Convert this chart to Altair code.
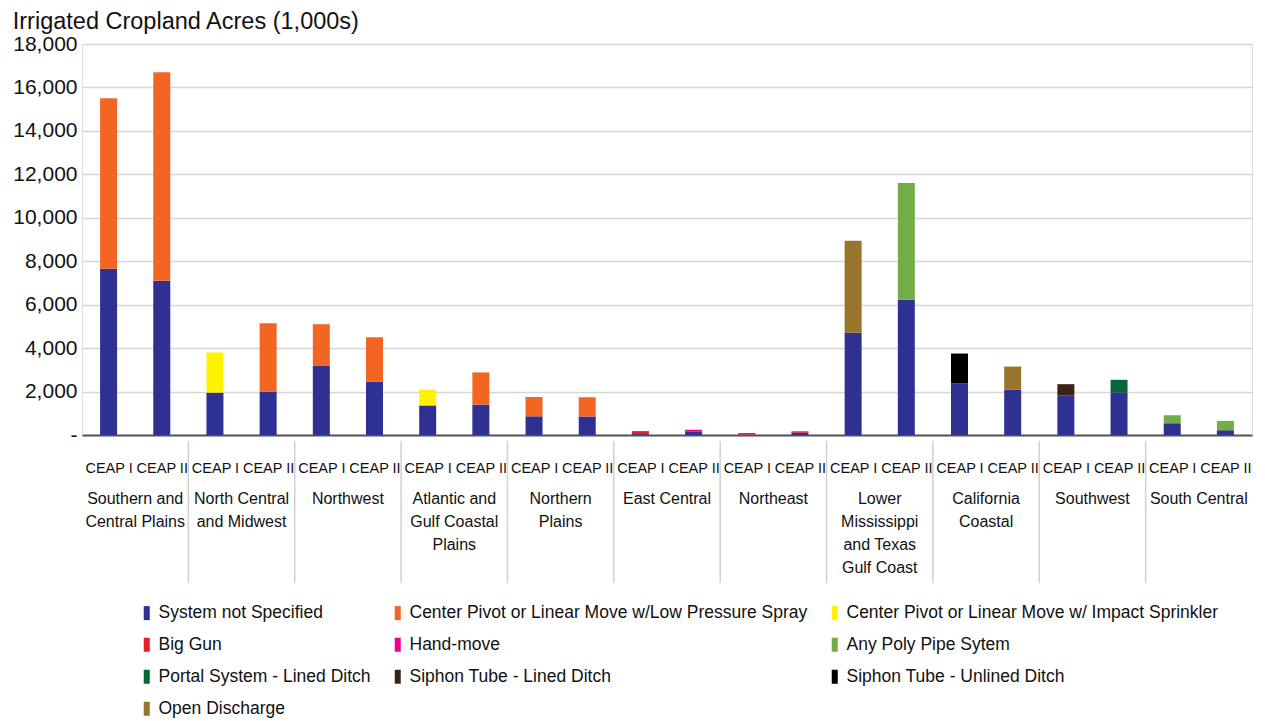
import altair as alt
import pandas as pd

regions = ["Southern and\nCentral Plains", "North Central\nand Midwest", "Northwest",
           "Atlantic and\nGulf Coastal\nPlains", "Northern\nPlains", "East Central",
           "Northeast", "Lower\nMississippi\nand Texas\nGulf Coast", "California\nCoastal",
           "Southwest", "South Central"]
periods = ["CEAP I", "CEAP II"]

series_names = ["System not Specified",
                "Center Pivot or Linear Move w/Low Pressure Spray",
                "Center Pivot or Linear Move w/ Impact Sprinkler",
                "Big Gun", "Hand-move", "Any Poly Pipe Sytem",
                "Portal System - Lined Ditch", "Siphon Tube - Lined Ditch",
                "Siphon Tube - Unlined Ditch", "Open Discharge"]
series_colors = ["#2E3192", "#F26522", "#FFF200", "#ED1C24", "#EC008C",
                 "#72AE48", "#006838", "#3C2415", "#000000", "#98752B"]

# values in 1,000 acres, one per bar (region x period, in order)
system_not_specified = [7650, 7100, 1950, 2000, 3180, 2450, 1360, 1400, 860, 850, 40, 170,
                        20, 100, 4710, 6230, 2380, 2090, 1830, 1970, 540, 220]
center_pivot_low = [7850, 9600, 0, 3150, 1920, 2050, 0, 1480, 890, 890, 0, 0,
                    0, 0, 0, 0, 0, 0, 0, 0, 0, 0]
center_pivot_impact = [0, 0, 1850, 0, 0, 0, 730, 0, 0, 0, 0, 0,
                       0, 0, 0, 0, 0, 0, 0, 0, 0, 0]
big_gun = [0, 0, 0, 0, 0, 0, 0, 0, 0, 0, 140, 0,
           70, 70, 0, 0, 0, 0, 0, 0, 0, 0]
hand_move = [0, 0, 0, 0, 0, 0, 0, 0, 0, 0, 0, 70,
             0, 0, 0, 0, 0, 0, 0, 0, 0, 0]
poly_pipe = [0, 0, 0, 0, 0, 0, 0, 0, 0, 0, 0, 0,
             0, 0, 0, 5370, 0, 0, 0, 0, 370, 430]
portal_lined = [0, 0, 0, 0, 0, 0, 0, 0, 0, 0, 0, 0,
                0, 0, 0, 0, 0, 0, 0, 570, 0, 0]
siphon_lined = [0, 0, 0, 0, 0, 0, 0, 0, 0, 0, 0, 0,
                0, 0, 0, 0, 0, 0, 510, 0, 0, 0]
siphon_unlined = [0, 0, 0, 0, 0, 0, 0, 0, 0, 0, 0, 0,
                  0, 0, 0, 0, 1370, 0, 0, 0, 0, 0]
open_discharge = [0, 0, 0, 0, 0, 0, 0, 0, 0, 0, 0, 0,
                  0, 0, 4230, 0, 0, 1060, 0, 0, 0, 0]

all_series = [system_not_specified, center_pivot_low, center_pivot_impact, big_gun,
              hand_move, poly_pipe, portal_lined, siphon_lined, siphon_unlined,
              open_discharge]

rows = []
for si, (name, vals) in enumerate(zip(series_names, all_series)):
    for i, v in enumerate(vals):
        if v > 0:
            rows.append({"series": name, "order": si, "pos": i + 0.5,
                         "region": regions[i // 2].replace("\n", " "),
                         "period": periods[i % 2], "value": v})
df = pd.DataFrame(rows)

reg_df = pd.DataFrame({"pos": [2 * g + 1 for g in range(len(regions))], "label": regions})
sep_df = pd.DataFrame({"pos": [2 * g for g in range(1, len(regions))]})

W, H = 1170, 391
FONT = "Liberation Sans"

xscale = alt.Scale(domain=[0, 2 * len(regions)], nice=False, zero=False, padding=0)

bars = alt.Chart(df).mark_bar(size=17).encode(
    x=alt.X("pos:Q", scale=xscale,
            axis=alt.Axis(values=[i + 0.5 for i in range(2 * len(regions))],
                          labelExpr="datum.value % 2 < 1 ? 'CEAP I' : 'CEAP II'",
                          title=None, grid=False, ticks=False, domain=True,
                          domainColor="#555555", domainWidth=2,
                          labelFont=FONT, labelFontSize=14.5, labelColor="#111111",
                          labelBaseline="top", labelPadding=26, labelFlush=False,
                          labelOverlap=False)),
    y=alt.Y("value:Q", stack="zero",
            scale=alt.Scale(domain=[0, 18000], nice=False),
            axis=alt.Axis(values=list(range(0, 18001, 2000)),
                          labelExpr="datum.value == 0 ? '-' : format(datum.value, ',')",
                          title=None, domain=False, ticks=False,
                          gridColor="#d6d6d6", gridWidth=1.5,
                          labelFont=FONT, labelFontSize=21, labelColor="#111111",
                          labelPadding=5)),
    color=alt.Color("series:N",
                    scale=alt.Scale(domain=series_names, range=series_colors),
                    legend=alt.Legend(title=None, orient="none", legendX=56, legendY=560,
                                      direction="horizontal",
                                      columns=3, columnPadding=18, rowPadding=13,
                                      symbolType="M-0.43,-1L0.43,-1L0.43,1L-0.43,1Z",
                                      symbolSize=196, symbolStrokeWidth=0,
                                      labelFont=FONT, labelFontSize=17.5,
                                      labelColor="#111111", labelLimit=600,
                                      labelOffset=3)),
    order=alt.Order("order:Q", sort="ascending"),
    tooltip=["region:N", "period:N", "series:N", "value:Q"],
)

region_text = alt.Chart(reg_df).mark_text(
    lineBreak="\n", baseline="top", align="center", font=FONT, fontSize=16,
    lineHeight=23, color="#111111"
).encode(
    x=alt.X("pos:Q", scale=xscale),
    y=alt.value(H + 56),
    text="label:N",
)

separators = alt.Chart(sep_df).mark_rule(color="#d0d0d0", strokeWidth=1.5).encode(
    x=alt.X("pos:Q", scale=xscale),
    y=alt.value(H + 6),
    y2=alt.value(H + 148),
)

chart = alt.layer(bars, separators, region_text).properties(
    width=W, height=H,
    title=alt.TitleParams("Irrigated Cropland Acres (1,000s)", anchor="start",
                          font=FONT, fontSize=23.5, fontWeight="normal",
                          color="#111111", offset=0),
    autosize=alt.AutoSizeParams(type="none"),
    padding={"left": 74, "top": 36, "right": 5, "bottom": 286},
).configure_view(stroke=None).configure(font=FONT)

chart.save("out.html", embed_options={"renderer": "svg", "actions": False})
